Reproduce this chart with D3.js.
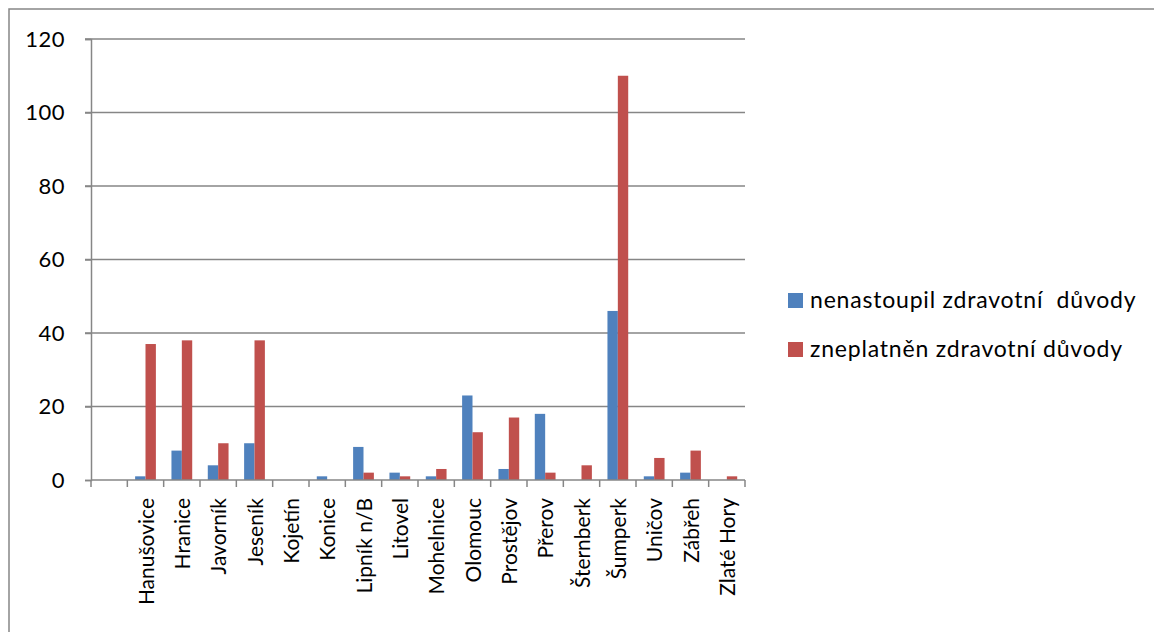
<!DOCTYPE html>
<html>
<head>
<meta charset="utf-8">
<script src="https://cdn.jsdelivr.net/npm/d3@7"></script>
<style>
  html, body { margin: 0; padding: 0; background: #fff; }
  svg { display: block; }
  text { font-family: Lato, "Open Sans", "Liberation Sans", sans-serif; fill: #000; }
</style>
</head>
<body>
<svg id="chart" width="1154" height="632"></svg>
<script>
// Towns (the first slot is an unlabeled, empty category)
const categories = ["", "Hanušovice", "Hranice", "Javorník", "Jeseník", "Kojetín", "Konice",
  "Lipník n/B", "Litovel", "Mohelnice", "Olomouc", "Prostějov", "Přerov", "Šternberk",
  "Šumperk", "Uničov", "Zábřeh", "Zlaté Hory"];

// Counts per town
const nenastoupil = [0, 1, 8, 4, 10, 0, 1, 9, 2, 1, 23, 3, 18, 0, 46, 1, 2, 0];
const zneplatnen  = [0, 37, 38, 10, 38, 0, 0, 2, 1, 3, 13, 17, 2, 4, 110, 6, 8, 1];

const seriesNames = ["nenastoupil zdravotní  důvody", "zneplatněn zdravotní důvody"];
const seriesColors = ["#4f81bd", "#c0504d"];
const yTicks = [0, 20, 40, 60, 80, 100, 120];

const svg = d3.select("#chart");
const gray = "#868686";

// Outer chart frame
svg.append("rect")
  .attr("x", 9).attr("y", 9)
  .attr("width", 1160).attr("height", 640)
  .attr("fill", "none").attr("stroke", gray).attr("stroke-width", 1.5);

const plot = { left: 91, right: 745, top: 39, bottom: 480 };

const x = d3.scaleBand().domain(categories.map((c, i) => i))
  .range([plot.left, plot.right]).paddingInner(0).paddingOuter(0);
const y = d3.scaleLinear().domain([0, 120]).range([plot.bottom, plot.top]);

// Gridlines
svg.append("g").selectAll("line").data(yTicks.filter(t => t > 0)).join("line")
  .attr("x1", plot.left - 6).attr("x2", plot.right)
  .attr("y1", d => y(d)).attr("y2", d => y(d))
  .attr("stroke", gray).attr("stroke-width", 1.5);

// Y axis
const yAxis = svg.append("g").attr("transform", `translate(${plot.left},0)`)
  .call(d3.axisLeft(y).tickValues(yTicks).tickSize(6).tickPadding(20));
yAxis.select(".domain").attr("stroke", gray).attr("stroke-width", 1.5);
yAxis.selectAll(".tick line").attr("stroke", gray).attr("stroke-width", 1.5);
yAxis.selectAll(".tick text").attr("font-size", 22).attr("fill", "#000")
  .attr("letter-spacing", 0.5)
  .style("font-family", "Lato, 'Open Sans', sans-serif");

// Bars, grouped per category (gap width 150%)
const bw = x.bandwidth() / 3.5;
const groups = svg.append("g").selectAll("g").data(categories.map((c, i) => i)).join("g");
[nenastoupil, zneplatnen].forEach((vals, s) => {
  groups.append("rect")
    .attr("x", i => x(i) + x.bandwidth() / 2 - bw + s * bw)
    .attr("y", i => y(vals[i]))
    .attr("width", bw)
    .attr("height", i => y(0) - y(vals[i]))
    .attr("fill", seriesColors[s]);
});

// X axis with category tick marks at band boundaries
const xAxisG = svg.append("g");
xAxisG.append("line")
  .attr("x1", plot.left).attr("x2", plot.right)
  .attr("y1", y(0)).attr("y2", y(0))
  .attr("stroke", gray).attr("stroke-width", 1.5);
const bounds = categories.map((c, i) => x(i)).concat([plot.right]);
xAxisG.selectAll("line.tk").data(bounds).join("line").attr("class", "tk")
  .attr("x1", d => d).attr("x2", d => d)
  .attr("y1", y(0)).attr("y2", y(0) + 7)
  .attr("stroke", gray).attr("stroke-width", 1.5);

// Rotated category labels
xAxisG.selectAll("text").data(categories.map((c, i) => i)).join("text")
  .attr("transform", i => `translate(${x(i) + x.bandwidth() / 2 + 8},${y(0) + 18}) rotate(-90)`)
  .attr("text-anchor", "end")
  .attr("font-size", 21)
  .text(i => categories[i]);

// Legend
const legend = svg.append("g");
seriesNames.forEach((name, s) => {
  const ly = 300.5 + s * 49;
  legend.append("rect").attr("x", 788).attr("y", ly - 7.5).attr("width", 15).attr("height", 15)
    .attr("fill", seriesColors[s]);
  legend.append("text").attr("x", 810).attr("y", ly + 7.5).attr("font-size", 23)
    .attr("letter-spacing", 0.8)
    .style("white-space", "pre").text(name);
});
</script>
</body>
</html>
